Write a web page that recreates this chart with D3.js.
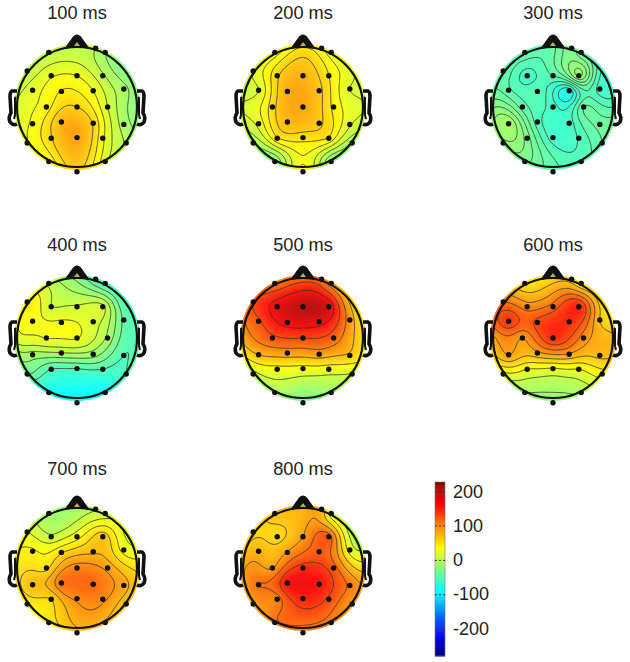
<!DOCTYPE html>
<html>
<head>
<meta charset="utf-8">
<script src="https://cdn.jsdelivr.net/npm/d3@7"></script>
<style>
  body { margin: 0; background: #fff; }
  text { font-family: "Liberation Sans", Arial, sans-serif; fill: #222; }
</style>
</head>
<body>
<div id="chart"></div>
<script>
// channel layout, head radius = 1, y up
// the last 4 sit under the ears / nose / rim, they have no visible dot
const channelNames = ["Fp1","AF4","Fp2","F7","F3","Fz","F4","FC5","FC1","FC2","FC6","C3","Cz","C4","CP5","CP1","CP2","CP6","P3","Pz","P4","P7","P8","O1","O2","Iz","T7","T8","Fpz","F8"];
const channelX = [-.47,.31,.47,-.83,-.43,0,.43,-.74,-.26,.27,.78,-.51,0,.51,-.74,-.26,.27,.78,-.43,0,.43,-.83,.82,-.47,.47,0,-1,1,0,.83];
const channelY = [.91,.98,.91,.60,.52,.52,.52,.28,.26,.27,.30,0,0,0,-.28,-.25,-.27,-.29,-.52,-.51,-.52,-.60,-.60,-.91,-.91,-1.08,0,0,1,.60];
const visibleDots = 26;

const titles = ["100 ms","200 ms","300 ms","400 ms","500 ms","600 ms","700 ms","800 ms"];

const v100 = [5,2,-12,5,30,32,5,25,48,32,-8,40,62,17,35,78,60,-5,60,88,35,30,0,35,22,62,20,-22,5,-25];
const v200 = [25,35,25,22,62,78,50,20,82,70,20,58,85,46,25,78,68,22,48,56,48,-8,-8,-25,-25,40,22,22,50,22];
const v300 = [-42,-28,-38,-42,-60,-48,-14,-46,-50,-78,-60,-44,-60,-40,-8,-52,-60,-38,-28,-60,-55,-20,-40,-30,-52,-45,-25,-48,-42,-58];
const v400 = [8,-50,-55,50,13,14,16,36,34,18,-40,31.5,32,-8,-12,-5,-12,-52,-52,-52,-52,-35,-52,-85,-85,-92,22,-50,-25,-55];
const v500 = [105,110,90,135,178,200,185,130,175,175,90,128,135,120,75,90,90,70,35,35,30,5,15,-5,-10,-35,85,55,120,60];
const v600 = [55,60,50,110,100,118,155,145,135,150,70,90,150,100,90,85,88,75,30,28,30,25,40,-10,-5,-20,85,75,60,55];
const v700 = [-10,5,15,25,10,35,70,45,58,75,35,55,105,90,75,112,118,85,60,100,100,45,65,48,75,70,50,55,-5,20];
const v800 = [75,80,30,58,58,90,125,80,92,125,30,88,150,125,115,165,165,110,105,155,135,85,90,110,105,100,85,55,80,0];
const fields = [v100,v200,v300,v400,v500,v600,v700,v800];

// contour levels of each map
const c100 = [62,47,32,17,2,-13];
const c200 = [65,50,35,20,5,-10];
const c300 = [-72,-64,-56,-48,-40,-32,-24,-16];
const c400 = [31,12,-4,-20,-36,-52];
const c500 = [165,135,105,75,45,15];
const c600 = [130,110,90,70,50,30,10,-10];
const c700 = [96,78,60,42,24,6];
const c800 = [140,115,90,65,40,15];
const contourLevels = [c100,c200,c300,c400,c500,c600,c700,c800];

// head centres in the page
const centerX = [77,303,553,77,303,553,77,303];
const centerY = [107,107,107,338,338,338,568,568];
const titleY = [19,19,19,251,251,251,475,475];

const barTicks = [200,100,0,-100,-200];

// jet, stretched over the range of the colour bar
const color = d3.scaleLinear()
  .domain([-280,-217,-90,37,164,227])
  .range(["#000080","#0000ff","#00ffff","#ffff00","#ff0000","#800000"])
  .clamp(true);

const width = 630, height = 662, R = 60;
const svg = d3.select("#chart").append("svg")
  .attr("width", width)
  .attr("height", height);

svg.append("defs").append("filter")
  .attr("id", "soft")
  .append("feGaussianBlur").attr("stdDeviation", 0.5);

// biharmonic spline through the channel values, same as topoplot does
function green(r) { return r < 1e-9 ? 0 : r * r * (Math.log(r) - 1); }

function solve(A, b) {
  const n = b.length;
  const M = A.map((row, i) => [...row, b[i]]);
  for (let i = 0; i < n; i++) {
    let p = i;
    for (let k = i + 1; k < n; k++) if (Math.abs(M[k][i]) > Math.abs(M[p][i])) p = k;
    [M[i], M[p]] = [M[p], M[i]];
    for (let k = i + 1; k < n; k++) {
      const f = M[k][i] / M[i][i];
      for (let j = i; j <= n; j++) M[k][j] -= f * M[i][j];
    }
  }
  const x = new Array(n).fill(0);
  for (let i = n - 1; i >= 0; i--) {
    let s = M[i][n];
    for (let j = i + 1; j < n; j++) s -= M[i][j] * x[j];
    x[i] = s / M[i][i];
  }
  return x;
}

const kernel = channelX.map((xi, i) => channelX.map((xj, j) =>
  green(Math.hypot(xi - xj, channelY[i] - channelY[j]))));

const N = 150, span = 1.15;
const gridScale = d3.scaleLinear().domain([0, N - 1]).range([-span, span]);

function makeGrid(values) {
  const w = solve(kernel, values);
  const grid = new Float64Array(N * N);
  for (let r = 0; r < N; r++) {
    const py = -gridScale(r);
    for (let c = 0; c < N; c++) {
      const px = gridScale(c);
      let s = 0;
      for (let k = 0; k < w.length; k++) s += w[k] * green(Math.hypot(px - channelX[k], py - channelY[k]));
      grid[r * N + c] = s;
    }
  }
  return grid;
}

const fillLevels = d3.range(-280, 230, 4);

titles.forEach((title, m) => {
  const x = d3.scaleLinear().domain([-1, 1]).range([centerX[m] - R, centerX[m] + R]);
  const y = d3.scaleLinear().domain([-1, 1]).range([centerY[m] + R, centerY[m] - R]);
  const g = svg.append("g");

  g.append("text")
    .attr("x", centerX[m])
    .attr("y", titleY[m])
    .attr("text-anchor", "middle")
    .attr("font-size", 18.2)
    .text(title);

  const grid = makeGrid(fields[m]);
  const path = d3.geoPath(d3.geoTransform({
    point(c, r) { this.stream.point(x(gridScale(c - 0.5)), y(-gridScale(r - 0.5))); }
  }));

  g.append("clipPath").attr("id", "disc" + m)
    .append("circle")
    .attr("cx", x(0)).attr("cy", y(0)).attr("r", R * 1.05);

  const disc = g.append("g").attr("clip-path", `url(#disc${m})`);

  disc.append("g").attr("filter", "url(#soft)").attr("opacity", 0.93)
    .selectAll("path")
    .data(d3.contours().size([N, N]).thresholds(fillLevels)(grid))
    .join("path")
    .attr("d", path)
    .attr("fill", d => color(d.value))
    .attr("stroke", d => color(d.value))
    .attr("stroke-width", 0.5);

  // contour lines stop at the head outline
  g.append("clipPath").attr("id", "head" + m)
    .append("circle")
    .attr("cx", x(0)).attr("cy", y(0)).attr("r", R);

  g.append("g").attr("clip-path", `url(#head${m})`)
    .selectAll("path")
    .data(d3.contours().size([N, N]).thresholds(contourLevels[m])(grid))
    .join("path")
    .attr("d", path)
    .attr("fill", "none")
    .attr("stroke", "#3a3a20")
    .attr("stroke-opacity", 0.85)
    .attr("stroke-width", 1);

  // head outline, nose, ears
  const outline = g.append("g").attr("transform", `translate(${x(0)},${y(0)})`)
    .attr("fill", "none").attr("stroke", "#111");
  outline.append("circle").attr("r", R).attr("stroke-width", 2.2);
  outline.append("path")
    .attr("d", "M-11,-59 L-3,-70 Q0,-73 3,-70 L11,-59 L7,-61 L-7,-61 Z")
    .attr("stroke-width", 2)
    .attr("fill", "#111");
  outline.append("path")
    .attr("d", "M-3,-61 L0,-65 L3,-61 Z")
    .attr("stroke", "none")
    .attr("fill", "#b8b060");
  [-1, 1].forEach(s => {
    outline.append("path")
      .attr("transform", `scale(${s},1)`)
      .attr("d", "M60,-16 L65,-16 Q67,-15 67,-11 L66,6 Q69,10 67,15 Q64,19 60,17")
      .attr("stroke-width", 3.6);
    outline.append("path")
      .attr("transform", `scale(${s},1)`)
      .attr("d", "M61,-10 L62,-9 L62,8 L63,12")
      .attr("stroke-width", 2);
  });

  // channel dots
  g.append("g").selectAll("circle")
    .data(d3.range(visibleDots))
    .join("circle")
    .attr("cx", i => x(channelX[i]))
    .attr("cy", i => y(channelY[i]))
    .attr("r", 2.7)
    .attr("fill", "#111");
});

// colour bar
const barY = d3.scaleLinear().domain([-280, 227]).range([656, 482]);
const barX = 435, barW = 10;

svg.append("g").selectAll("rect")
  .data(d3.range(-280, 227, 3))
  .join("rect")
  .attr("x", barX)
  .attr("y", d => barY(d + 3))
  .attr("width", barW)
  .attr("height", d => barY(d) - barY(d + 3) + 0.5)
  .attr("fill", d => color(d + 1.5));

svg.append("rect")
  .attr("x", barX).attr("y", 482)
  .attr("width", barW).attr("height", 174)
  .attr("fill", "none")
  .attr("stroke", "#777")
  .attr("stroke-width", 0.6);

const barAxis = d3.axisRight(barY).tickValues(barTicks).tickSize(0).tickPadding(8)
  .tickFormat(d => String(d));
const axisG = svg.append("g")
  .attr("transform", `translate(${barX + barW},0)`)
  .call(barAxis);
axisG.select(".domain").remove();
axisG.selectAll("text").attr("font-size", 18).attr("fill", "#222")
  .attr("font-family", '"Liberation Sans", Arial, sans-serif');
axisG.selectAll("line")
  .attr("x2", -barW)
  .attr("stroke", "#333")
  .attr("stroke-dasharray", "2,2");
</script>
</body>
</html>
